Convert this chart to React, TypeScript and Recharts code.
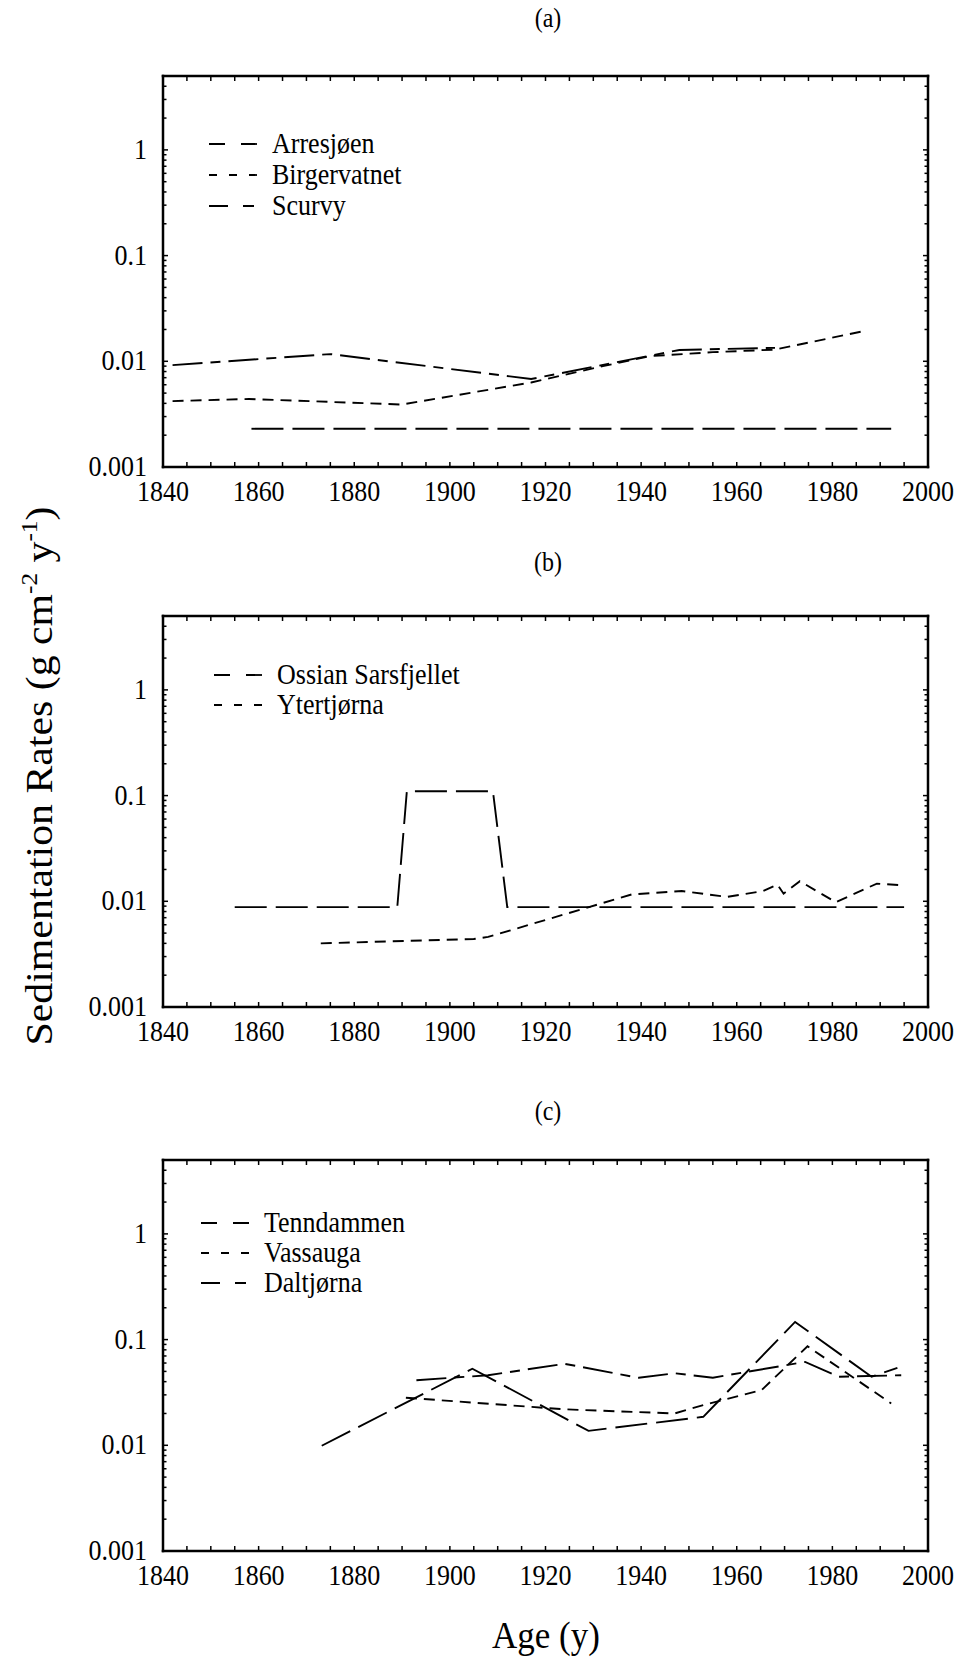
import React from 'react';
import { LineChart, Line, XAxis, YAxis, Legend } from 'recharts';

const FONT = '"Liberation Serif", "Times New Roman", serif';

// ---------- Panel (a) ----------
const arresjoenYears = [1858.5, 1992.3];
const arresjoenRates = [0.0023, 0.0023];
const birgervatnetYears = [1842, 1858, 1890, 1917, 1932, 1942, 1955, 1968, 1987];
const birgervatnetRates = [0.0042, 0.0044, 0.0039, 0.0063, 0.009, 0.0112, 0.0122, 0.0129, 0.0195];
const scurvyYears = [1842, 1875, 1917, 1948, 1968];
const scurvyRates = [0.0092, 0.0117, 0.0068, 0.0128, 0.0134];

// ---------- Panel (b) ----------
const ossianYears = [1855, 1889, 1891, 1909, 1912, 1995];
const ossianRates = [0.0088, 0.0088, 0.11, 0.11, 0.0088, 0.0088];
const ytertjornaYears = [1873, 1905, 1908, 1938, 1948.5, 1958, 1965.5, 1968.5, 1969.8, 1973.2, 1980.7, 1989.3, 1995.2];
const ytertjornaRates = [0.004, 0.0044, 0.0046, 0.0116, 0.0125, 0.011, 0.0125, 0.0144, 0.0118, 0.0155, 0.0098, 0.0147, 0.0141];

// ---------- Panel (c) ----------
const tenndammenYears = [1873.2, 1904.7, 1929, 1953, 1972.2, 1988.2, 1993.6];
const tenndammenRates = [0.0099, 0.053, 0.0137, 0.0186, 0.147, 0.0445, 0.054];
const vassaugaYears = [1890.8, 1924, 1947, 1953, 1965.2, 1974.8, 1992.3];
const vassaugaRates = [0.0282, 0.0219, 0.02, 0.024, 0.0333, 0.0865, 0.0249];
const daltjornaYears = [1893, 1908, 1924, 1939.5, 1947, 1955, 1974.3, 1981.3, 1994.4];
const daltjornaRates = [0.0413, 0.046, 0.059, 0.0435, 0.048, 0.0436, 0.0615, 0.0445, 0.046];

// ---------- Axes ----------
const xDomain = [1840, 2000];
const xTickYears = [1840, 1845, 1850, 1855, 1860, 1865, 1870, 1875, 1880, 1885, 1890, 1895, 1900, 1905, 1910, 1915, 1920, 1925, 1930, 1935, 1940, 1945, 1950, 1955, 1960, 1965, 1970, 1975, 1980, 1985, 1990, 1995, 2000];
const xLabelYears = [1840, 1860, 1880, 1900, 1920, 1940, 1960, 1980, 2000];
const yDomain = [0.001, 5];
const yMajorValues = [0.001, 0.01, 0.1, 1];
const yMajorLabels = ['0.001', '0.01', '0.1', '1'];
const yMinorMultipliers = [2, 3, 4, 5, 6, 7, 8, 9];

const yTicks: number[] = [];
yMajorValues.forEach((m) => {
  yTicks.push(m);
  yMinorMultipliers.forEach((k) => {
    const v = Number((k * m).toPrecision(3));
    if (v < yDomain[1]) yTicks.push(v);
  });
});

const isMajor = (v: number) => yMajorValues.some((m) => Math.abs(m - v) / m < 1e-6);
const majorLabel = (v: number) => {
  const i = yMajorValues.findIndex((m) => Math.abs(m - v) / m < 1e-6);
  return i >= 0 ? yMajorLabels[i] : '';
};

const zip = (ys: number[], rs: number[]) => ys.map((y, i) => ({ year: y, rate: rs[i] }));

const DASH_LONG = '32 9';
const DASH_SHORT = '11 7';
const DASH_LONGSHORT = '30 8 10 8';
const LEG_LONG = '16 16';
const LEG_SHORT = '8 12';
const LEG_LONGSHORT = '19 15 11 100';

type Series = { name: string; data: { year: number; rate: number }[]; dash: string; legDash: string };

const panelA: Series[] = [
  { name: 'Arresjøen', data: zip(arresjoenYears, arresjoenRates), dash: DASH_LONG, legDash: LEG_LONG },
  { name: 'Birgervatnet', data: zip(birgervatnetYears, birgervatnetRates), dash: DASH_SHORT, legDash: LEG_SHORT },
  { name: 'Scurvy', data: zip(scurvyYears, scurvyRates), dash: DASH_LONGSHORT, legDash: LEG_LONGSHORT },
];
const panelB: Series[] = [
  { name: 'Ossian Sarsfjellet', data: zip(ossianYears, ossianRates), dash: DASH_LONG, legDash: LEG_LONG },
  { name: 'Ytertjørna', data: zip(ytertjornaYears, ytertjornaRates), dash: DASH_SHORT, legDash: LEG_SHORT },
];
const panelC: Series[] = [
  { name: 'Tenndammen', data: zip(tenndammenYears, tenndammenRates), dash: DASH_LONG, legDash: LEG_LONG },
  { name: 'Vassauga', data: zip(vassaugaYears, vassaugaRates), dash: DASH_SHORT, legDash: LEG_SHORT },
  { name: 'Daltjørna', data: zip(daltjornaYears, daltjornaRates), dash: DASH_LONGSHORT, legDash: LEG_LONGSHORT },
];

const FS = 26;
const STRETCH = 1.1;

const SText = ({ x, y, anchor = 'start', size = FS, children }: any) => (
  <text
    transform={`translate(${x},${y}) scale(1,${STRETCH})`}
    x={0}
    y={0}
    textAnchor={anchor}
    fontSize={size}
    fontFamily={FONT}
    fill="#000"
  >
    {children}
  </text>
);

const BottomTick = (props: any) => {
  const { x, y, payload } = props;
  const v = payload.value;
  return (
    <g>
      <line x1={x} x2={x} y1={y} y2={y - 5} stroke="#000" strokeWidth={1.5} />
      {xLabelYears.includes(v) && (
        <SText x={x} y={y + 34} anchor="middle">
          {v}
        </SText>
      )}
    </g>
  );
};
const TopTick = (props: any) => {
  const { x, y } = props;
  return <line x1={x} x2={x} y1={y} y2={y + 5} stroke="#000" strokeWidth={1.5} />;
};
const LeftTick = (props: any) => {
  const { x, y, payload } = props;
  const v = payload.value;
  const major = isMajor(v);
  return (
    <g>
      <line x1={x} x2={x + (major ? 5 : 3.5)} y1={y} y2={y} stroke="#000" strokeWidth={1.5} />
      {major && (
        <SText x={x - 16} y={y + 9} anchor="end">
          {majorLabel(v)}
        </SText>
      )}
    </g>
  );
};
const RightTick = (props: any) => {
  const { x, y, payload } = props;
  const major = isMajor(payload.value);
  return <line x1={x} x2={x - (major ? 5 : 3.5)} y1={y} y2={y} stroke="#000" strokeWidth={1.5} />;
};

const axisLine = { stroke: '#000', strokeWidth: 2.5, strokeLinecap: 'square' as const };

function Panel({ series, plotTop, legX, legY, legGap }: { series: Series[]; plotTop: number; legX: number; legY: number; legGap: number }) {
  const chartTop = plotTop - 40;
  const legendContent = () => (
    <svg width={320} height={series.length * legGap + 20} style={{ display: 'block', overflow: 'visible' }}>
      {series.map((s, i) => (
        <g key={s.name}>
          <line x1={0} x2={48} y1={12 + i * legGap} y2={12 + i * legGap} stroke="#000" strokeWidth={1.8} strokeDasharray={s.legDash} />
          <SText x={63} y={12 + i * legGap + 9}>
            {s.name}
          </SText>
        </g>
      ))}
    </svg>
  );
  return (
    <div style={{ position: 'absolute', left: 0, top: chartTop, width: 959, height: 491 }}>
      <LineChart width={959} height={491} margin={{ top: 39, right: 30, bottom: 5, left: 0 }} style={{ fontFamily: FONT }}>
        <XAxis
          xAxisId="b"
          type="number"
          dataKey="year"
          orientation="bottom"
          domain={xDomain}
          ticks={xTickYears}
          interval={0}
          height={55}
          tickSize={0}
          tickMargin={0}
          tickLine={false}
          axisLine={axisLine}
          tick={<BottomTick />}
          allowDataOverflow
        />
        <XAxis
          xAxisId="t"
          type="number"
          dataKey="year"
          orientation="top"
          domain={xDomain}
          ticks={xTickYears}
          interval={0}
          height={1}
          tickSize={0}
          tickMargin={0}
          tickLine={false}
          axisLine={axisLine}
          tick={<TopTick />}
          allowDataOverflow
        />
        <YAxis
          yAxisId="l"
          type="number"
          scale="log"
          orientation="left"
          domain={yDomain}
          ticks={yTicks}
          interval={0}
          width={163}
          tickSize={0}
          tickMargin={0}
          tickLine={false}
          axisLine={axisLine}
          tick={<LeftTick />}
          allowDataOverflow
        />
        <YAxis
          yAxisId="r"
          type="number"
          scale="log"
          orientation="right"
          domain={yDomain}
          ticks={yTicks}
          interval={0}
          width={1}
          tickSize={0}
          tickMargin={0}
          tickLine={false}
          axisLine={axisLine}
          tick={<RightTick />}
          allowDataOverflow
        />
        <Legend
          layout="vertical"
          align="center"
          verticalAlign="middle"
          content={legendContent}
          wrapperStyle={{ left: legX, top: legY - 12 - chartTop, width: 320 }}
        />
        {series.map((s) => (
          <Line
            key={s.name}
            name={s.name}
            data={s.data}
            dataKey="rate"
            xAxisId="b"
            yAxisId="l"
            type="linear"
            stroke="#000"
            strokeWidth={1.9}
            strokeDasharray={s.dash}
            dot={false}
            activeDot={false}
            isAnimationActive={false}
          />
        ))}
      </LineChart>
    </div>
  );
}

export default function App() {
  return (
    <div style={{ position: 'absolute', left: 0, top: 0, width: 959, height: 1660, background: '#fff', fontFamily: FONT }}>
      <Panel series={panelA} plotTop={76} legX={209} legY={144} legGap={31} />
      <Panel series={panelB} plotTop={616} legX={214} legY={675} legGap={30} />
      <Panel series={panelC} plotTop={1160} legX={201} legY={1223} legGap={30} />
      <svg width={959} height={1660} style={{ position: 'absolute', left: 0, top: 0, pointerEvents: 'none' }}>
        <SText x={548} y={27} anchor="middle" size={24}>(a)</SText>
        <SText x={548} y={571} anchor="middle" size={24}>(b)</SText>
        <SText x={548} y={1120} anchor="middle" size={24}>(c)</SText>
        <SText x={546} y={1648} anchor="middle" size={35}>Age (y)</SText>
        <text transform={`translate(52,776) scale(1,${STRETCH}) rotate(-90)`} textAnchor="middle" fontSize={38} fontFamily={FONT} fill="#000">
          Sedimentation Rates (g cm
          <tspan fontSize={23} dy={-15}>-2</tspan>
          <tspan dy={15}> y</tspan>
          <tspan fontSize={23} dy={-15}>-1</tspan>
          <tspan dy={15}>)</tspan>
        </text>
      </svg>
    </div>
  );
}
